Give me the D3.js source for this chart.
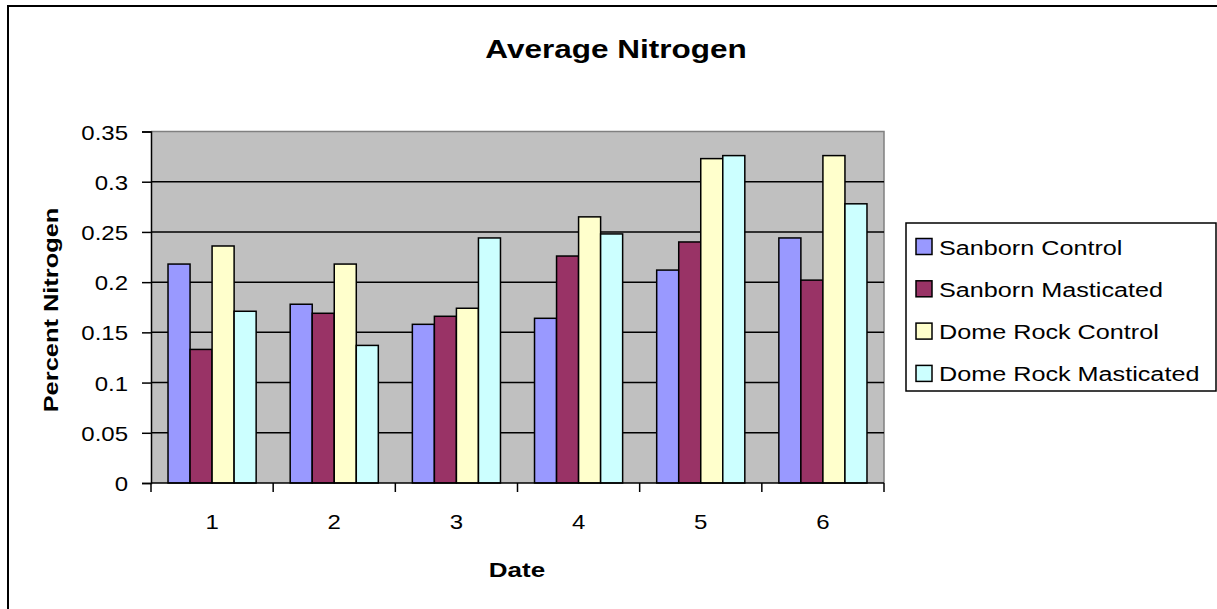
<!DOCTYPE html>
<html>
<head>
<meta charset="utf-8">
<script src="https://cdn.jsdelivr.net/npm/d3@7"></script>
<style>
  html, body { margin: 0; padding: 0; background: #fff; }
  svg { display: block; font-family: Arial, "Liberation Sans", sans-serif; }
</style>
</head>
<body>
<svg id="chart" width="1217" height="609"></svg>
<script>
// Sampling dates (categories)
const dates = ["1", "2", "3", "4", "5", "6"];

// Series names and fill colours
const seriesNames = ["Sanborn Control", "Sanborn Masticated", "Dome Rock Control", "Dome Rock Masticated"];
const seriesColors = ["#9999FF", "#993366", "#FFFFCC", "#CCFFFF"];

// Average percent nitrogen per date, one array per series
const sanbornControl     = [0.218, 0.178, 0.158, 0.164, 0.212, 0.244];
const sanbornMasticated  = [0.133, 0.169, 0.166, 0.226, 0.240, 0.202];
const domeRockControl    = [0.236, 0.218, 0.174, 0.265, 0.323, 0.326];
const domeRockMasticated = [0.171, 0.137, 0.244, 0.248, 0.326, 0.278];

// Y axis ticks
const yTicks = [0, 0.05, 0.1, 0.15, 0.2, 0.25, 0.3, 0.35];

const seriesValues = [sanbornControl, sanbornMasticated, domeRockControl, domeRockMasticated];

const svg = d3.select("#chart");
const FONT = "Arial, 'Liberation Sans', sans-serif";
const STRETCH = 1.2; // wide text rendering

// Place a horizontally widened text element
function label(parent, txt, x, y, opts = {}) {
  const rot = opts.rotate ? ` rotate(${opts.rotate})` : "";
  return parent.append("text")
    .attr("transform", `translate(${x},${y})${rot} scale(${opts.stretch || STRETCH},1)`)
    .attr("text-anchor", opts.anchor || "start")
    .attr("font-family", FONT)
    .attr("font-size", opts.size || 20)
    .attr("font-weight", opts.bold ? "bold" : "normal")
    .attr("fill", "#000")
    .text(txt);
}

// Outer chart frame
svg.append("rect")
  .attr("x", 8).attr("y", 6)
  .attr("width", 1217).attr("height", 609)
  .attr("fill", "#fff").attr("stroke", "#000").attr("stroke-width", 2);

const plot = { left: 151, right: 884, top: 131.5, bottom: 483 };

const x0 = d3.scaleBand().domain(dates).range([plot.left, plot.right]).paddingInner(0).paddingOuter(0);
const groupW = x0.bandwidth() * 88 / 122;
const x1 = d3.scaleBand().domain(d3.range(seriesNames.length)).range([0, groupW]).padding(0);
const y = d3.scaleLinear().domain([0, 0.35]).range([plot.bottom, plot.top]);

// Plot background
svg.append("rect")
  .attr("x", plot.left).attr("y", plot.top)
  .attr("width", plot.right - plot.left).attr("height", plot.bottom - plot.top)
  .attr("fill", "#C0C0C0");

// Plot border (top / right)
svg.append("path")
  .attr("d", `M${plot.left},${plot.top}H${plot.right}V${plot.bottom}`)
  .attr("fill", "none").attr("stroke", "#808080").attr("stroke-width", 1.5);

// Horizontal gridlines
svg.append("g").selectAll("line")
  .data(yTicks.filter(t => t > 0 && t < 0.35))
  .join("line")
  .attr("x1", plot.left).attr("x2", plot.right)
  .attr("y1", d => y(d)).attr("y2", d => y(d))
  .attr("stroke", "#000").attr("stroke-width", 1.5);

// Bars
const groups = svg.append("g").selectAll("g")
  .data(dates)
  .join("g")
  .attr("transform", d => `translate(${x0(d) + (x0.bandwidth() - groupW) / 2},0)`);

groups.selectAll("rect")
  .data((d, i) => seriesValues.map((vals, s) => ({ s, v: vals[i] })))
  .join("rect")
  .attr("x", d => x1(d.s))
  .attr("width", x1.bandwidth())
  .attr("y", d => y(d.v))
  .attr("height", d => y(0) - y(d.v))
  .attr("fill", d => seriesColors[d.s])
  .attr("stroke", "#000").attr("stroke-width", 1.5);

// Y axis (line and ticks from d3.axisLeft, labels widened)
const yAxis = svg.append("g")
  .attr("transform", `translate(${plot.left},0)`)
  .call(d3.axisLeft(y).tickValues(yTicks).tickSize(9).tickFormat(""));
yAxis.select(".domain").attr("stroke", "#000").attr("stroke-width", 1.5);
yAxis.selectAll(".tick line").attr("stroke", "#000").attr("stroke-width", 1.5);
const yLabels = svg.append("g");
yTicks.forEach(t => {
  label(yLabels, String(+t.toFixed(2)), 128, y(t) + 8, { anchor: "end", size: 20 });
});

// X axis: ticks on category boundaries
const xAxisG = svg.append("g").attr("transform", `translate(0,${plot.bottom})`);
xAxisG.append("line")
  .attr("x1", plot.left).attr("x2", plot.right)
  .attr("stroke", "#000").attr("stroke-width", 1.5);
const boundaries = dates.map(d => x0(d)).concat([x0(dates[dates.length - 1]) + x0.bandwidth()]);
xAxisG.selectAll("line.tick")
  .data(boundaries)
  .join("line").attr("class", "tick")
  .attr("x1", d => d).attr("x2", d => d)
  .attr("y1", 0).attr("y2", 9)
  .attr("stroke", "#000").attr("stroke-width", 1.5);
dates.forEach(d => {
  label(xAxisG, d, x0(d) + x0.bandwidth() / 2, 46, { anchor: "middle", size: 20 });
});

// Title
label(svg, "Average Nitrogen", 616, 58, { anchor: "middle", size: 25, bold: true, stretch: 1.26 });

// Axis titles
label(svg, "Date", 517, 577, { anchor: "middle", size: 20, bold: true, stretch: 1.3 });
label(svg, "Percent Nitrogen", 58, 310, { anchor: "middle", size: 20, bold: true, stretch: 1.27, rotate: -90 });

// Legend
const legend = svg.append("g");
legend.append("rect")
  .attr("x", 906).attr("y", 223)
  .attr("width", 310).attr("height", 168)
  .attr("fill", "#fff").attr("stroke", "#000").attr("stroke-width", 1.5);

seriesNames.forEach((name, i) => {
  const cy = 246.5 + i * 42.3;
  legend.append("rect")
    .attr("x", 916).attr("y", cy - 8)
    .attr("width", 16).attr("height", 16)
    .attr("fill", seriesColors[i])
    .attr("stroke", "#000").attr("stroke-width", 1.5);
  label(legend, name, 939, cy + 8, { size: 21 });
});
</script>
</body>
</html>
